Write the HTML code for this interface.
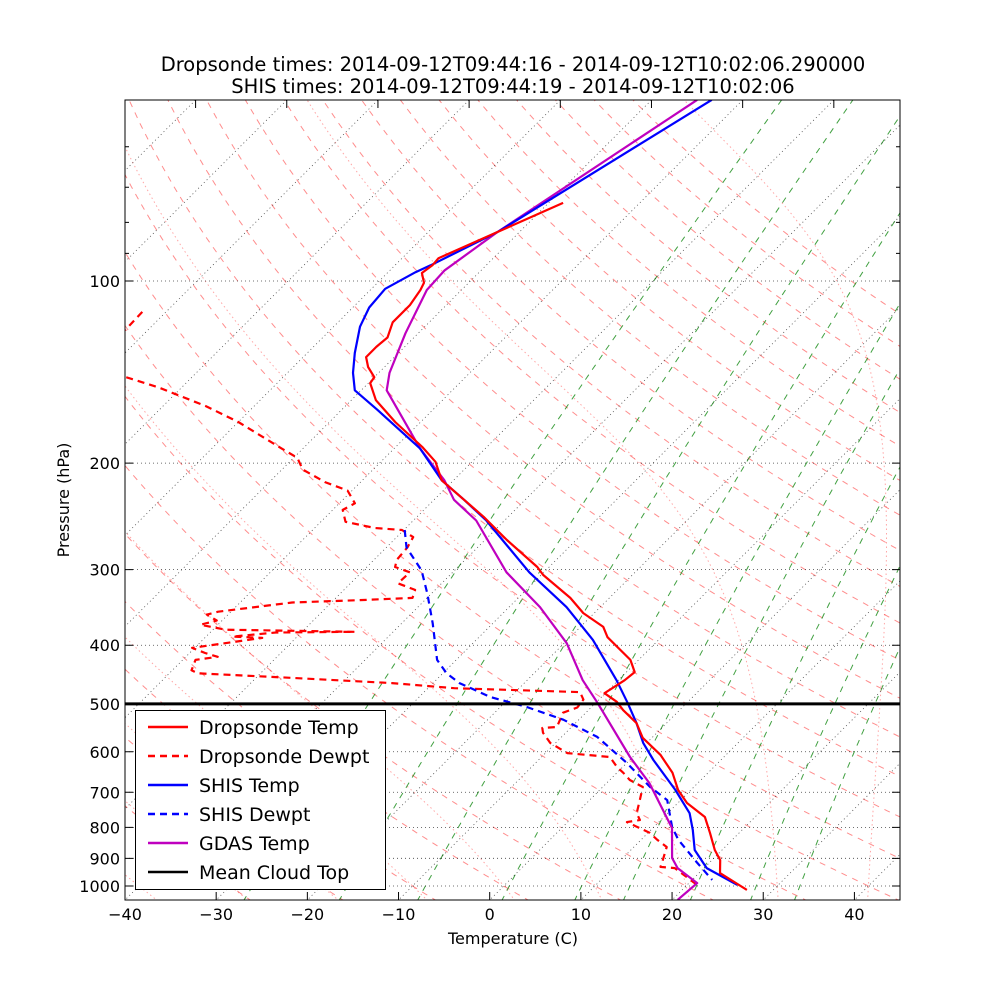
<!DOCTYPE html>
<html><head><meta charset="utf-8"><title>Skew-T</title>
<style>
html,body{margin:0;padding:0;background:#fff;}
svg{display:block;font-family:"DejaVu Sans","Liberation Sans",sans-serif;}
</style></head>
<body>
<svg id="chart" width="1000" height="1000" viewBox="0 0 1000 1000" xmlns="http://www.w3.org/2000/svg">
<defs><clipPath id="plotclip"><rect x="125" y="100" width="775" height="800"/></clipPath></defs>
<rect x="0" y="0" width="1000" height="1000" fill="#fff"/>
<text x="513" y="71" font-size="19.5" text-anchor="middle">Dropsonde times: 2014-09-12T09:44:16 - 2014-09-12T10:02:06.290000</text>
<text x="513" y="93" font-size="19.5" text-anchor="middle">SHIS times: 2014-09-12T09:44:19 - 2014-09-12T10:02:06</text>
<g id="bg" clip-path="url(#plotclip)"></g>
<g id="series" clip-path="url(#plotclip)"></g>
<g id="axes"></g>
<text x="513" y="944" font-size="16" text-anchor="middle">Temperature (C)</text>
<text x="0" y="0" font-size="16" text-anchor="middle" transform="translate(69,500) rotate(-90)">Pressure (hPa)</text>
<g id="legend"></g>
</svg>
<script>
// ---- data ----
const dropTempP = [74.3,83,91.7,94.2,97,100.7,103.5,109.6,117,124,128.5,133.6,138.7,144.2,147.5,157.4,171,188,199,213.5,230,245.3,268,297,306,334,354,373,388,423,443,457,480,496,512,538,569,607,650,694,729,769,817,872,906,952,1015];
const dropTempT = [-68.4,-72.4,-76.0,-75.9,-76.2,-74.9,-74.5,-74.0,-74.0,-72.9,-73.1,-73.1,-71.8,-70.0,-69.8,-67.3,-62.8,-57.1,-54.0,-51.3,-46.7,-42.7,-37.6,-31.3,-29.8,-24.3,-21.2,-17.5,-15.9,-10.9,-9.1,-9.3,-10.1,-7.8,-6.2,-3.3,-1.0,2.8,6.1,8.6,11.0,14.5,16.8,19.2,20.9,22.3,27.1];
const dropDewP = [112.5,120.3,132,144,150,161,171,189,196,205,215,222,233,239,250,256,258,265,275.6,289,297,303,316,324,334,337,340,352,356,364,370,377,380,381,387,389,404,412,418,423,440,445,453,462,471,478,492,507,517,546,548,558,580,603,612,636,650,668,686,721,758,778,784,817,839,862,906,930,934,996];
const dropDewT = [-102.6,-102.5,-112,-97.4,-92.5,-85.3,-80.0,-72.4,-69.6,-67.7,-63.9,-60.5,-58.3,-58.9,-57.3,-53.4,-50.2,-48.2,-47.7,-47.5,-46.9,-44.7,-44.8,-42.2,-41.6,-47.3,-54.3,-61.4,-62.3,-60.6,-61.9,-58.6,-44.2,-52.8,-57.1,-53.7,-60.3,-58.3,-56.5,-58.6,-57.9,-56.9,-46.0,-34.5,-27.1,-12.9,-11.7,-11.5,-12.5,-11.6,-13.1,-12.5,-10.6,-7.6,-2.5,-0.6,0.7,2.2,4.4,5.5,6.6,7.7,6.5,10.2,11.8,13.6,14.6,15.1,16.8,21.1];
const shisTempP = [50.2,83,94.2,96.7,103,110.6,119,131.5,141.9,151.6,163.5,189,213.5,230,248.8,303,346,392,457,498,538,580,619,694,758,808,872,934,996];
const shisTempT = [-63.4,-72.4,-76.1,-77.0,-78.5,-78.2,-77.1,-74.8,-72.8,-70.7,-66.0,-57.2,-51.3,-46.7,-42.0,-31.6,-23.7,-17.2,-10.2,-6.5,-3.3,-0.4,2.6,8.3,12.4,14.6,17.0,20.3,25.5];
const shisDewP = [258,275.6,301,329,368,423,445,462,487,506,531,567,626,686,721,799,839,916,977];
const shisDewT = [-49.9,-47.8,-43.6,-40.4,-36.6,-32.1,-29.6,-27.1,-22.2,-17.1,-11.7,-6.1,0.0,5.2,8.5,12.0,14.1,18.7,22.2];
const gdasTempP = [50.2,83,96,103.5,122,141.9,151.6,189,213.5,230,248.8,303,346,397,457,498,612,676,802,899,934,989,1054];
const gdasTempT = [-65.0,-72.4,-74.0,-73.8,-71.4,-68.8,-67.2,-57.2,-51.0,-47.8,-43.1,-34.1,-26.6,-19.7,-13.9,-9.8,-0.3,4.7,12.1,15.4,17.1,20.9,20.6];
const cloudTopP = [500];
const xTicks = [-40,-30,-20,-10,0,10,20,30,40];
const pTicks = [100,200,300,400,500,600,700,800,900,1000];
const pMinor = [60,70,80,90];
const mixRatios = [0.4,1,2,4,7,10,16,24,32];

// ---- scales ----
const L=125,R=900,TOP=100,BOT=900,PXPERC=775/85;
function Y(p){return 886+605*Math.log10(p/1000);}
function X(T,p){return L+(T+40)*PXPERC+(BOT-Y(p));}
const NS="http://www.w3.org/2000/svg";
function mk(tag,attrs,parent){const e=document.createElementNS(NS,tag);for(const k in attrs)e.setAttribute(k,attrs[k]);parent.appendChild(e);return e;}
function pathFrom(ps,ts){let d="";for(let i=0;i<ps.length;i++){d+=(i?"L":"M")+X(ts[i],ps[i]).toFixed(1)+","+Y(ps[i]).toFixed(1);}return d;}
const bg=document.getElementById("bg"),ser=document.getElementById("series"),ax=document.getElementById("axes"),lg=document.getElementById("legend");

const levels=[];for(let p=1060;p>=45;p-=5)levels.push(p);

for(let t0=-30;t0<=200;t0+=10){
  const ts=levels.map(p=>(t0+273.15)*Math.pow(p/1000,0.286)-273.15);
  const e=mk("path",{d:pathFrom(levels,ts),fill:"none",stroke:"#ff0000","stroke-opacity":"0.45","stroke-width":"1","stroke-dasharray":"6,6"},bg);
  
  
}
function es(Tc){return 6.112*Math.exp(17.67*Tc/(Tc+243.5));}
function moist(t0){
  const Rd=287,Cp=1005,Lv=2.501e6;
  function dTdp(p,T){const Tc=T-273.15;const e=Math.min(es(Tc),p*0.5);const rs=0.622*e/(p-e);return (Rd*T+Lv*rs)/(Cp+Lv*Lv*rs*0.622/(Rd*T*T))/p;}
  const up=[],dn=[];let T=t0+273.15;
  for(let p=1000;p>=45;p-=1){up.push([p,T-273.15]);T-=dTdp(p,T);}
  T=t0+273.15;for(let p=1000;p<=1060;p+=1){dn.push([p,T-273.15]);T+=dTdp(p,T);}
  const all=dn.reverse().concat(up.slice(1));
  return [all.map(a=>a[0]),all.map(a=>a[1])];
}
for(let t0=-40;t0<=40;t0+=10){
  const m=moist(t0);
  const e=mk("path",{d:pathFrom(m[0],m[1]),fill:"none",stroke:"#ff0000","stroke-opacity":"0.35","stroke-width":"1","stroke-dasharray":"1.5,3"},bg);
  
  
}
for(const w of mixRatios){
  const ws=w/1000;
  const ts=levels.map(p=>{const e=ws*p/(0.622+ws);const l=Math.log(e/6.112);return 243.5*l/(17.67-l);});
  const e=mk("path",{d:pathFrom(levels,ts),fill:"none",stroke:"#008000","stroke-opacity":"0.75","stroke-width":"1","stroke-dasharray":"6,6"},bg);
  
  
}
for(let T=-140;T<=50;T+=10){
  const e=mk("line",{x1:X(T,1060),y1:Y(1060),x2:X(T,45),y2:Y(45),stroke:"#000","stroke-opacity":"0.7","stroke-width":"0.8","stroke-dasharray":"1,3"},bg);
  
  
}
for(const p of pTicks){
  const e=mk("line",{x1:L,y1:Y(p),x2:R,y2:Y(p),stroke:"#000","stroke-opacity":"0.75","stroke-width":"0.8","stroke-dasharray":"1,3"},bg);
  
  
}

function series(ps,ts,color,dash,name){
  const a={d:pathFrom(ps,ts),fill:"none",stroke:color,"stroke-width":"2.2","stroke-linejoin":"round"};
  if(dash)a["stroke-dasharray"]="7,5";
  const e=mk("path",a,ser);
  
  
}
series(dropDewP,dropDewT,"#ff0000",true,"dropsonde-dewpoint-line");
series(shisDewP,shisDewT,"#0000ff",true,"shis-dewpoint-line");
series(gdasTempP,gdasTempT,"#bf00bf",false,"gdas-temp-line");
series(shisTempP,shisTempT,"#0000ff",false,"shis-temp-line");
series(dropTempP,dropTempT,"#ff0000",false,"dropsonde-temp-line");
for(const p of cloudTopP){
  const e=mk("line",{x1:L,y1:Y(p),x2:R,y2:Y(p),stroke:"#000","stroke-width":"3"},ser);
  
  
}

const fr=mk("rect",{x:L,y:TOP,width:R-L,height:BOT-TOP,fill:"none",stroke:"#000","stroke-width":"1"},ax);


for(const T of xTicks){
  const x=L+(T+40)*PXPERC;
  const t=mk("line",{x1:x,y1:BOT,x2:x,y2:BOT-8,stroke:"#000","stroke-width":"1"},ax);
  
  
  const lb=mk("text",{x:x,y:BOT+20,"font-size":"16","text-anchor":"middle"},ax);
  lb.textContent=(T<0?"\u2212":"")+Math.abs(T);
  
  
}
for(let T=-140;T<=50;T+=10){
  const x=L+(T+40)*PXPERC+(BOT-TOP);
  if(x<=L||x>=R)continue;
  const t=mk("line",{x1:x,y1:TOP,x2:x,y2:TOP+8,stroke:"#000","stroke-width":"1"},ax);
  
  
}
for(const p of pTicks){
  const y=Y(p);
  const t=mk("path",{d:`M${L},${y}h8M${R},${y}h-8`,stroke:"#000","stroke-width":"1"},ax);
  
  
  const lb=mk("text",{x:L-5,y:y+6,"font-size":"16","text-anchor":"end"},ax);
  lb.textContent=String(p);
  
  
}
for(const p of pMinor){
  const y=Y(p);
  const t=mk("path",{d:`M${L},${y}h4M${R},${y}h-4`,stroke:"#000","stroke-width":"1"},ax);
  
  
}

const lbox=mk("rect",{x:135.5,y:710.5,width:250,height:179,fill:"#fff",stroke:"#000","stroke-width":"1"},lg);


const legNames=["Dropsonde Temp","Dropsonde Dewpt","SHIS Temp","SHIS Dewpt","GDAS Temp","Mean Cloud Top"];
const legColors=["#ff0000","#ff0000","#0000ff","#0000ff","#bf00bf","#000000"];
const legDash=[false,true,false,true,false,false];
legNames.forEach((n,i)=>{
  const y=727+i*29;
  const a={x1:148,y1:y,x2:188,y2:y,stroke:legColors[i],"stroke-width":"2.5"};
  if(legDash[i])a["stroke-dasharray"]="7,5";
  const l=mk("line",a,lg);
  
  
  const t=mk("text",{x:199,y:y+7,"font-size":"19"},lg);
  t.textContent=n;
  
  
});
</script>
</body></html>
